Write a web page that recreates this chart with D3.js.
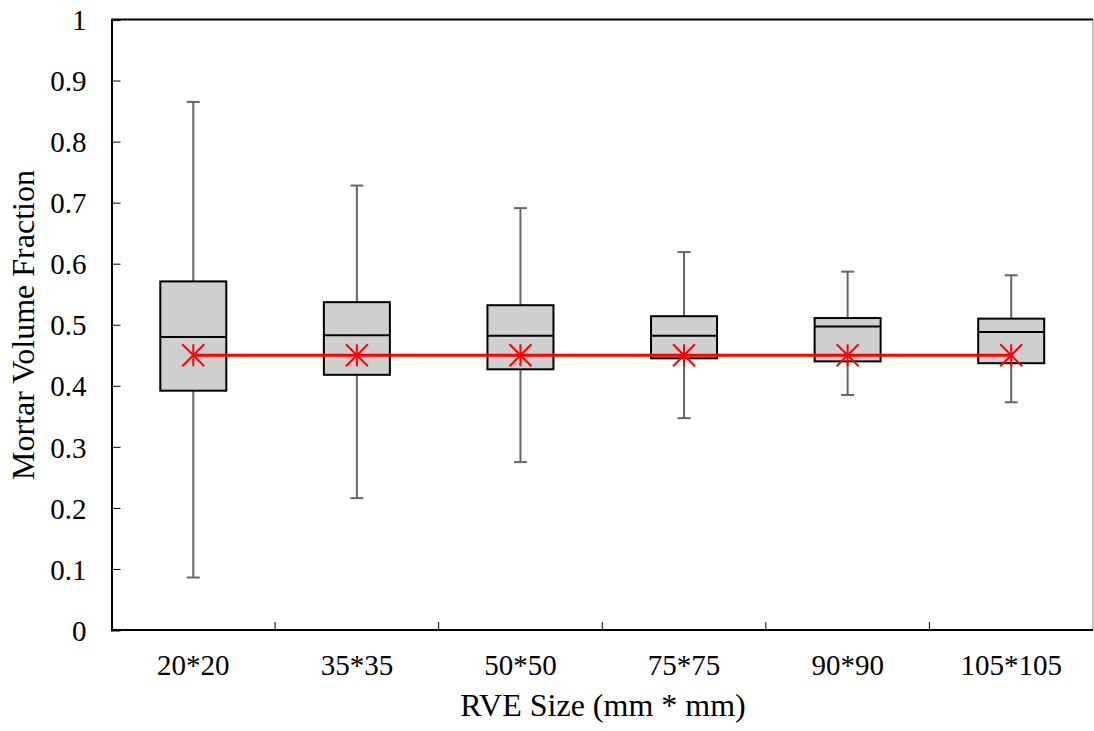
<!DOCTYPE html>
<html>
<head>
<meta charset="utf-8">
<script src="https://cdn.jsdelivr.net/npm/d3@7"></script>
<style>
  html, body { margin: 0; padding: 0; background: #fff; }
  svg text { font-family: "Liberation Serif", "Times New Roman", serif; fill: #000; }
</style>
</head>
<body>
<svg id="chart" width="1094" height="731"></svg>
<script>
// RVE sizes and box-plot statistics of mortar volume fraction
const categories = ["20*20", "35*35", "50*50", "75*75", "90*90", "105*105"];
const whiskerLow  = [0.086, 0.216, 0.275, 0.347, 0.385, 0.373];
const quartile1   = [0.392, 0.418, 0.427, 0.445, 0.440, 0.437];
const medians     = [0.480, 0.483, 0.482, 0.482, 0.497, 0.488];
const quartile3   = [0.571, 0.537, 0.532, 0.514, 0.511, 0.510];
const whiskerHigh = [0.865, 0.728, 0.691, 0.619, 0.587, 0.581];
const means       = [0.45, 0.45, 0.45, 0.45, 0.45, 0.45];
const yTicks = [0, 0.1, 0.2, 0.3, 0.4, 0.5, 0.6, 0.7, 0.8, 0.9, 1];

const svg = d3.select("#chart");
const plotLeft = 111.5, plotRight = 1093, plotTop = 19.5, plotBottom = 630;
const tickFont = 29, titleFont = 32;

const x = d3.scaleBand().domain(categories).range([plotLeft, plotRight]).padding(0);
const y = d3.scaleLinear().domain([0, 1]).range([plotBottom, plotTop]);

const rows = categories.map((c, i) => ({
  c, lo: whiskerLow[i], q1: quartile1[i], med: medians[i],
  q3: quartile3[i], hi: whiskerHigh[i], mean: means[i]
}));
const cx = d => x(d.c) + x.bandwidth() / 2;
const boxW = 66, capW = 13;

// frame: top and right borders
svg.append("line").attr("x1", plotLeft).attr("x2", plotRight).attr("y1", plotTop).attr("y2", plotTop)
  .attr("stroke", "#000").attr("stroke-width", 2);
svg.append("line").attr("x1", plotRight).attr("x2", plotRight).attr("y1", plotTop).attr("y2", plotBottom)
  .attr("stroke", "#888").attr("stroke-width", 1);

// whiskers
const g = svg.append("g");
g.selectAll(".wh").data(rows).join("line")
  .attr("x1", cx).attr("x2", cx)
  .attr("y1", d => y(d.hi)).attr("y2", d => y(d.lo))
  .attr("stroke", "#666").attr("stroke-width", 2);
["hi", "lo"].forEach(k => {
  g.append("g").selectAll("line").data(rows).join("line")
    .attr("x1", d => cx(d) - capW / 2).attr("x2", d => cx(d) + capW / 2)
    .attr("y1", d => y(d[k])).attr("y2", d => y(d[k]))
    .attr("stroke", "#666").attr("stroke-width", 2);
});

// boxes
g.append("g").selectAll("rect").data(rows).join("rect")
  .attr("x", d => cx(d) - boxW / 2).attr("width", boxW)
  .attr("y", d => y(d.q3)).attr("height", d => y(d.q1) - y(d.q3))
  .attr("fill", "#d0cfd0").attr("stroke", "#000").attr("stroke-width", 2);
g.append("g").selectAll("line").data(rows).join("line")
  .attr("x1", d => cx(d) - boxW / 2).attr("x2", d => cx(d) + boxW / 2)
  .attr("y1", d => y(d.med)).attr("y2", d => y(d.med))
  .attr("stroke", "#000").attr("stroke-width", 2);

// mean line with asterisk markers (vertical bar plus an X)
svg.append("path").datum(rows)
  .attr("d", d3.line().x(cx).y(d => y(d.mean)))
  .attr("fill", "none").attr("stroke", "#ff0000").attr("stroke-width", 3);
const r = 11;
const star = svg.append("g").selectAll("g").data(rows).join("g")
  .attr("transform", d => `translate(${cx(d)},${y(d.mean)})`);
[[0, -r, 0, r], [-r, -r, r, r], [-r, r, r, -r]].forEach(([x1, y1, x2, y2]) => {
  star.append("line")
    .attr("x1", x1).attr("y1", y1).attr("x2", x2).attr("y2", y2)
    .attr("stroke", "#ff0000").attr("stroke-width", 2);
});

// y axis: ticks pointing inward
const yAxis = svg.append("g").attr("transform", `translate(${plotLeft},0)`)
  .call(d3.axisRight(y).tickValues(yTicks).tickSize(9).tickFormat(d3.format("")));
yAxis.select(".domain").attr("stroke", "#000").attr("stroke-width", 2);
yAxis.selectAll(".tick line").attr("stroke", "#000").attr("stroke-width", 1);
yAxis.selectAll(".tick text").attr("x", -25).attr("text-anchor", "end")
  .attr("font-size", tickFont).attr("dy", "0.35em");

// x axis: ticks at category boundaries pointing up
svg.append("line").attr("x1", plotLeft).attr("x2", plotRight).attr("y1", plotBottom).attr("y2", plotBottom)
  .attr("stroke", "#000").attr("stroke-width", 2);
svg.append("g").selectAll("line").data(categories.slice(1)).join("line")
  .attr("x1", d => x(d)).attr("x2", d => x(d))
  .attr("y1", plotBottom).attr("y2", plotBottom - 8)
  .attr("stroke", "#000").attr("stroke-width", 1);
svg.append("g").selectAll("text").data(categories).join("text")
  .attr("x", d => x(d) + x.bandwidth() / 2).attr("y", 675)
  .attr("text-anchor", "middle").attr("font-size", tickFont).text(d => d);

// axis titles
svg.append("text").attr("x", 603).attr("y", 716)
  .attr("text-anchor", "middle").attr("font-size", titleFont).text("RVE Size (mm * mm)");
svg.append("text").attr("transform", "translate(34,325) rotate(-90)")
  .attr("text-anchor", "middle").attr("font-size", titleFont).text("Mortar Volume Fraction");
</script>
</body>
</html>
